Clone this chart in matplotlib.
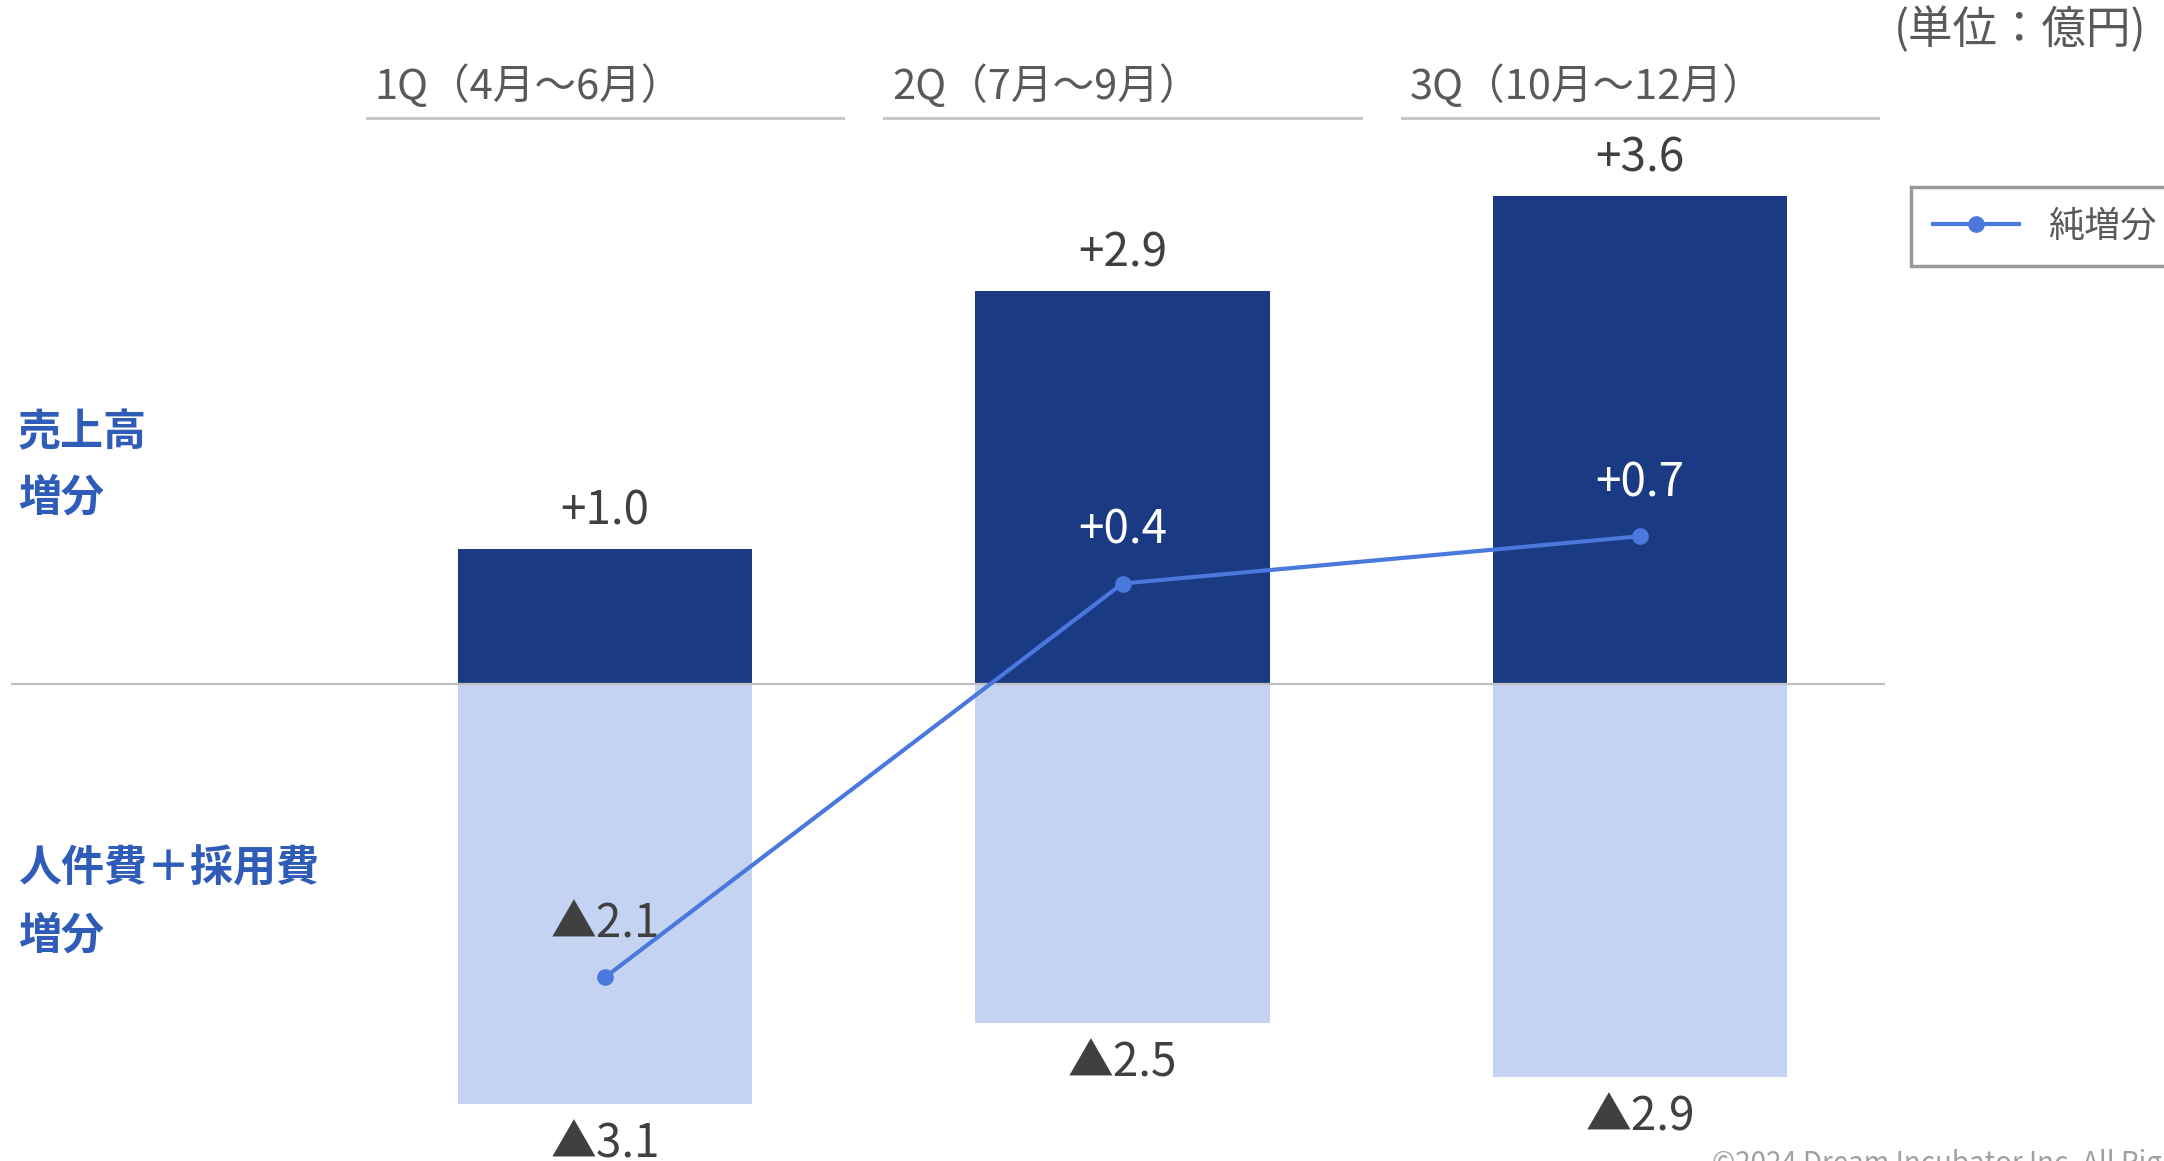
import numpy as np
import matplotlib
matplotlib.use("Agg")
import matplotlib.pyplot as plt

plt.rcParams['font.family'] = ['Noto Sans CJK JP', 'DejaVu Sans']

# data (億円)
quarters = ["1Q（4月～6月）", "2Q（7月～9月）", "3Q（10月～12月）"]
sales_inc = [1.0, 2.9, 3.6]
cost_inc = [-3.1, -2.5, -2.9]
net_inc = [-2.1, 0.4, 0.7]

dark = "#1b3a84"
light = "#c5d3f2"
line_c = "#4a78dc"
txt = "#404040"
lab_blue = "#2f5cb8"

W, H = 2164, 1161
fig = plt.figure(figsize=(W / 100, H / 100), dpi=100)
ax = fig.add_axes([0, 0, 1, 1])
ax.axis('off')

x = np.arange(len(quarters))
ax.set_xlim(-605 / 517.5, (W - 605) / 517.5)
ax.set_ylim(-(H - 684) / 135.5, 684 / 135.5)

ax.bar(x, sales_inc, width=0.57, color=dark, zorder=2)
ax.bar(x, cost_inc, width=0.57, color=light, zorder=2)
ax.hlines(0, (11 - 605) / 517.5, (1885 - 605) / 517.5, color="#c0c0c0", lw=1.6, zorder=3)

def fmt(v):
    return ("+%.1f" % v) if v >= 0 else ("▲%.1f" % abs(v))

for xi, v in zip(x, sales_inc):
    ax.annotate(fmt(v), (xi, v), xytext=(0, 27), textcoords="offset points",
                ha="center", va="center", fontsize=33, color=txt)
for xi, v in zip(x, cost_inc):
    ax.annotate(fmt(v), (xi, v), xytext=(0, -29), textcoords="offset points",
                ha="center", va="center", fontsize=33, color=txt)

# quarter headers with underline
tr = ax.get_xaxis_transform()
for xi, q in zip(x, quarters):
    ax.text(xi - 0.445, 1 - 86 / H, q, transform=tr, ha="left", va="center",
            fontsize=30, color="#595959")
    ax.plot([xi - 0.46, xi + 0.46], [1 - 118 / H] * 2, transform=tr,
            color="#c8c8c8", lw=2.2, clip_on=False)

# net increase line on its own scale
ax2 = ax.twinx()
ax2.axis('off')
ax2.set_ylim((646.5 - H) / 157.5, 646.5 / 157.5)
ax2.plot(x, net_inc, color=line_c, lw=3, marker="o", markersize=11, label="純増分", zorder=4)
for xi, v in zip(x, net_inc):
    ax2.annotate(fmt(v), (xi, v), xytext=(0, 38), textcoords="offset points",
                 ha="center", va="center", fontsize=33,
                 color=txt if v < 0 else "white")

# left side labels
for label, yp in [("売上高", 432), ("増分", 498), ("人件費＋採用費", 869), ("増分", 936)]:
    fig.text(18 / W, 1 - yp / H, label, fontsize=31, fontweight="bold", color=lab_blue, va="center")

fig.text(2146 / W, 1 - 30 / H, "(単位：億円)", fontsize=32, color="#595959", ha="right", va="center")

leg = fig.legend(loc="upper left", bbox_to_anchor=(1911 / W, 1 - 187 / H), bbox_transform=fig.transFigure,
                 fontsize=26, frameon=True, fancybox=False, edgecolor="#808080",
                 handlelength=2.4, borderpad=0.6, borderaxespad=0)
leg.get_frame().set_linewidth(2.5)
for t in leg.get_texts():
    t.set_color("#595959")

fig.text(1712 / W, 1 - 1172 / H, "©2024 Dream Incubator Inc. All Rights Reserved.",
         fontsize=20, color="#a0a0a0", ha="left", va="baseline")

fig.savefig("out.png", dpi=100)
